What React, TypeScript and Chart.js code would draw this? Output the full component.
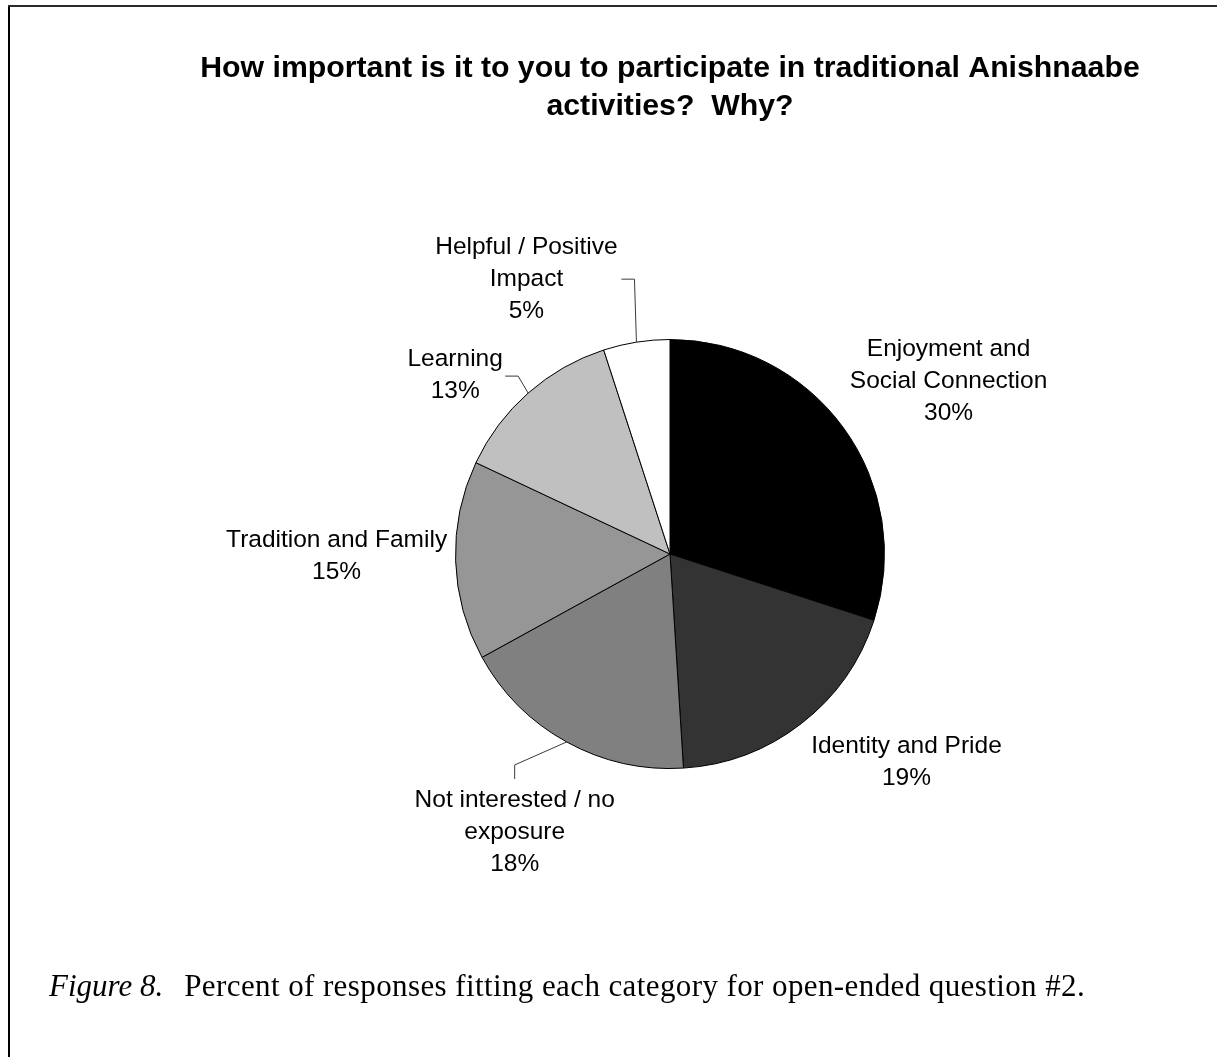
import React, { useEffect, useRef } from "react";
import { Chart, registerables } from "chart.js";

Chart.register(...registerables);

// Survey responses: share of answers per category (clockwise from 12 o'clock)
const categories = [
  "Enjoyment and\nSocial Connection",
  "Identity and Pride",
  "Not interested / no\nexposure",
  "Tradition and Family",
  "Learning",
  "Helpful / Positive\nImpact",
];
const percents = [30, 19, 18, 15, 13, 5];
const sliceColors = ["#000000", "#333333", "#808080", "#969696", "#c0c0c0", "#ffffff"];

const titleLines = [
  "How important is it to you to participate in traditional Anishnaabe",
  "activities?  Why?",
];
const captionLead = "Figure 8.";
const captionText = "Percent of responses fitting each category for open-ended question #2.";

// Label placement, as offsets from the mid-point of each slice's outer edge.
// Optional leader polyline points use the same reference point.
type Layout = { dx: number; dy: number; leader?: number[][] };
const labelLayout: Layout[] = [
  { dx: 105, dy: -46.5 },
  { dx: 105, dy: 39 },
  { dx: -52, dy: 90, leader: [[-52, 23], [-52, 37]] },
  { dx: -119, dy: -4 },
  { dx: -73, dy: -18, leader: [[-10, -17], [-23, -17]] },
  { dx: -110, dy: -63, leader: [[-2, -63], [-15, -63]] },
];

const W = 1217;
const H = 1057;
const SANS = '"Liberation Sans", Arial, Helvetica, sans-serif';
const SERIF = '"Liberation Serif", "Times New Roman", Times, serif';

const decorations = {
  id: "decorations",
  beforeDraw(chart: any) {
    const ctx = chart.ctx as CanvasRenderingContext2D;
    ctx.save();
    ctx.fillStyle = "#ffffff";
    ctx.fillRect(0, 0, chart.width, chart.height);
    // page frame (left and top edges)
    ctx.fillStyle = "#000000";
    ctx.fillRect(8, 6, 2, chart.height);
    ctx.fillStyle = "#2a2a2a";
    ctx.fillRect(8, 5, chart.width, 2);
    ctx.restore();
  },
  afterDraw(chart: any) {
    const ctx = chart.ctx as CanvasRenderingContext2D;
    const meta = chart.getDatasetMeta(0);
    ctx.save();

    // title
    ctx.fillStyle = "#000000";
    ctx.textAlign = "center";
    ctx.textBaseline = "alphabetic";
    ctx.font = `bold 30.25px ${SANS}`;
    ctx.fillText(titleLines[0], 670, 77);
    ctx.fillText(titleLines[1], 670, 115);

    // slice labels
    ctx.font = `24.5px ${SANS}`;
    ctx.textBaseline = "middle";
    meta.data.forEach((arc: any, i: number) => {
      const p = arc.getProps(["x", "y", "startAngle", "endAngle", "outerRadius"], true);
      const mid = (p.startAngle + p.endAngle) / 2;
      const ex = p.x + Math.cos(mid) * p.outerRadius;
      const ey = p.y + Math.sin(mid) * p.outerRadius;
      const lay = labelLayout[i];
      if (lay.leader) {
        ctx.beginPath();
        ctx.strokeStyle = "#3a3a3a";
        ctx.lineWidth = 1;
        ctx.moveTo(ex, ey);
        lay.leader.forEach(([lx, ly]) => ctx.lineTo(ex + lx, ey + ly));
        ctx.stroke();
      }
      const lines = [...categories[i].split("\n"), `${percents[i]}%`];
      const lh = 32;
      const cx = ex + lay.dx;
      const cy = ey + lay.dy;
      lines.forEach((t, k) => {
        ctx.fillText(t, cx, cy - ((lines.length - 1) * lh) / 2 + k * lh);
      });
    });

    // caption
    ctx.textAlign = "left";
    ctx.textBaseline = "alphabetic";
    ctx.font = `italic 31px ${SERIF}`;
    ctx.fillText(captionLead, 49, 996);
    const leadW = ctx.measureText(captionLead).width;
    ctx.font = `31px ${SERIF}`;
    (ctx as any).letterSpacing = "0.4px";
    ctx.fillText(captionText, 49 + leadW + 21, 996);
    ctx.restore();
  },
};

export default function App() {
  const canvasRef = useRef<HTMLCanvasElement | null>(null);

  useEffect(() => {
    document.body.style.margin = "0";
    document.body.style.overflow = "hidden";
    const canvas = canvasRef.current;
    if (!canvas) return;
    const chart = new Chart(canvas, {
      type: "pie",
      data: {
        labels: categories.map((c) => c.replace("\n", " ")),
        datasets: [
          {
            data: percents,
            backgroundColor: sliceColors,
            borderColor: "#000000",
            borderWidth: 1,
          },
        ],
      },
      options: {
        responsive: false,
        animation: false,
        layout: { padding: { left: 455, right: W - 885, top: 339, bottom: H - 769 } },
        plugins: {
          legend: { display: false },
          tooltip: { enabled: false },
          title: { display: false },
        },
      },
      plugins: [decorations],
    });
    return () => chart.destroy();
  }, []);

  return (
    <canvas ref={canvasRef} width={W} height={H} style={{ display: "block", width: W, height: H }} />
  );
}
